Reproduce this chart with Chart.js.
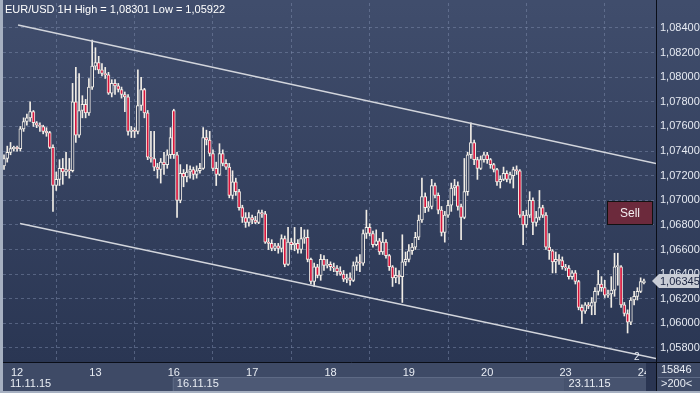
<!DOCTYPE html>
<html>
<head>
<meta charset="utf-8">
<script src="https://cdn.jsdelivr.net/npm/chart.js@4/dist/chart.umd.min.js"></script>
<style>
  html, body { margin: 0; padding: 0; background: #a6b0c1; }
  canvas { display: block; }
</style>
</head>
<body>
<canvas id="chart" width="700" height="393"></canvas>
<script>
// EUR/USD hourly candles, 11.11.15 20:00 -> 24.11.15 00:00
const opens = [
  1.0728, 1.0734, 1.0739, 1.0742, 1.0743, 1.0742, 1.0758, 1.0764, 1.0767, 1.0772, 1.0763, 1.0761,
  1.0760, 1.0756, 1.0755, 1.0743, 1.0712, 1.0717, 1.0726, 1.0723, 1.0725, 1.0724, 1.0780, 1.0753,
  1.0773, 1.0778, 1.0771, 1.0792, 1.0809, 1.0812, 1.0806, 1.0803, 1.0802, 1.0787, 1.0795, 1.0793,
  1.0790, 1.0786, 1.0784, 1.0756, 1.0757, 1.0756, 1.0777, 1.0790, 1.0771, 1.0735, 1.0734, 1.0727,
  1.0725, 1.0731, 1.0729, 1.0737, 1.0773, 1.0737, 1.0700, 1.0722, 1.0719, 1.0723, 1.0725, 1.0721,
  1.0724, 1.0726, 1.0751, 1.0749, 1.0738, 1.0726, 1.0721, 1.0738, 1.0730, 1.0727, 1.0704, 1.0715,
  1.0707, 1.0694, 1.0686, 1.0682, 1.0686, 1.0684, 1.0682, 1.0690, 1.0689, 1.0666, 1.0665, 1.0661,
  1.0663, 1.0661, 1.0669, 1.0648, 1.0666, 1.0664, 1.0665, 1.0660, 1.0669, 1.0670, 1.0652, 1.0634,
  1.0646, 1.0639, 1.0652, 1.0647, 1.0648, 1.0646, 1.0645, 1.0642, 1.0640, 1.0636, 1.0637, 1.0635,
  1.0647, 1.0650, 1.0649, 1.0673, 1.0678, 1.0673, 1.0664, 1.0667, 1.0658, 1.0666, 1.0655, 1.0646,
  1.0637, 1.0639, 1.0638, 1.0650, 1.0652, 1.0659, 1.0662, 1.0670, 1.0684, 1.0703, 1.0694, 1.0695,
  1.0712, 1.0704, 1.0692, 1.0674, 1.0688, 1.0696, 1.0710, 1.0712, 1.0695, 1.0686, 1.0707, 1.0737,
  1.0747, 1.0733, 1.0726, 1.0733, 1.0737, 1.0733, 1.0729, 1.0725, 1.0715, 1.0717, 1.0722, 1.0717,
  1.0720, 1.0725, 1.0724, 1.0688, 1.0680, 1.0688, 1.0700, 1.0682, 1.0686, 1.0694, 1.0688, 1.0662,
  1.0659, 1.0650, 1.0652, 1.0651, 1.0646, 1.0645, 1.0638, 1.0641, 1.0634, 1.0613, 1.0610, 1.0615,
  1.0614, 1.0617, 1.0626, 1.0632, 1.0629, 1.0623, 1.0624, 1.0627, 1.0646, 1.0646, 1.0615, 1.0608,
  1.0601, 1.0619, 1.0622, 1.0626, 1.0633
];
const highs = [
  1.0737, 1.0744, 1.0747, 1.0744, 1.0744, 1.0760, 1.0767, 1.0770, 1.0780, 1.0773, 1.0764, 1.0763,
  1.0761, 1.0759, 1.0756, 1.0745, 1.0723, 1.0733, 1.0734, 1.0739, 1.0734, 1.0795, 1.0808, 1.0803,
  1.0785, 1.0782, 1.0799, 1.08301, 1.0824, 1.0817, 1.0811, 1.0808, 1.0804, 1.0798, 1.0798, 1.0795,
  1.0792, 1.0788, 1.0786, 1.0760, 1.0759, 1.0806, 1.0800, 1.0791, 1.0773, 1.0756, 1.0756, 1.0730,
  1.0734, 1.0739, 1.0741, 1.0759, 1.0774, 1.0739, 1.0729, 1.0725, 1.0729, 1.0728, 1.0727, 1.0728,
  1.0730, 1.0759, 1.0757, 1.0756, 1.0741, 1.0731, 1.0746, 1.0741, 1.0733, 1.0730, 1.0724, 1.0718,
  1.0709, 1.0696, 1.0690, 1.0690, 1.0688, 1.0687, 1.0692, 1.0692, 1.0691, 1.0669, 1.0668, 1.0665,
  1.0665, 1.0672, 1.0671, 1.0678, 1.0669, 1.0678, 1.0668, 1.0678, 1.0676, 1.0676, 1.0653, 1.0649,
  1.0648, 1.0656, 1.0655, 1.0652, 1.0650, 1.0649, 1.0647, 1.0646, 1.0643, 1.0640, 1.0641, 1.0650,
  1.0654, 1.0656, 1.0676, 1.0692, 1.0681, 1.0675, 1.0676, 1.0669, 1.0674, 1.0668, 1.0656, 1.0647,
  1.0645, 1.0643, 1.0672, 1.0658, 1.0664, 1.0665, 1.0674, 1.0688, 1.0718, 1.0706, 1.0699, 1.0717,
  1.0714, 1.0706, 1.0695, 1.0691, 1.0700, 1.0714, 1.0717, 1.0715, 1.0697, 1.0734, 1.0739, 1.0763,
  1.0749, 1.0735, 1.0736, 1.0739, 1.0739, 1.0734, 1.0730, 1.0726, 1.0720, 1.0727, 1.0724, 1.0723,
  1.0727, 1.0728, 1.0725, 1.0691, 1.0692, 1.0707, 1.0702, 1.0691, 1.0708, 1.0696, 1.0690, 1.0673,
  1.0660, 1.0658, 1.0656, 1.0654, 1.0648, 1.0647, 1.0643, 1.0643, 1.0635, 1.0615, 1.0617, 1.0617,
  1.0621, 1.0629, 1.0643, 1.0638, 1.0635, 1.0627, 1.0638, 1.0657, 1.0657, 1.0647, 1.0617, 1.0611,
  1.0621, 1.0626, 1.0629, 1.0637, 1.0636
];
const lows = [
  1.0725, 1.0731, 1.0737, 1.0740, 1.0740, 1.0740, 1.0756, 1.0761, 1.0764, 1.0760, 1.0759, 1.0756,
  1.0754, 1.0752, 1.0742, 1.0691, 1.0708, 1.0712, 1.0713, 1.0720, 1.0718, 1.0723, 1.0747, 1.0751,
  1.0767, 1.0767, 1.0769, 1.0790, 1.0806, 1.0803, 1.0801, 1.0799, 1.0786, 1.0784, 1.0786, 1.0788,
  1.0783, 1.0772, 1.0753, 1.0751, 1.0751, 1.0754, 1.0773, 1.0767, 1.0733, 1.0731, 1.0724, 1.0718,
  1.0714, 1.0721, 1.0726, 1.0734, 1.0734, 1.0686, 1.0698, 1.0711, 1.0715, 1.0718, 1.0717, 1.0718,
  1.0722, 1.0725, 1.0745, 1.0736, 1.0724, 1.0712, 1.0720, 1.0728, 1.0725, 1.0702, 1.0701, 1.0704,
  1.0692, 1.0682, 1.0678, 1.0679, 1.0681, 1.0681, 1.0681, 1.0686, 1.0665, 1.0660, 1.0659, 1.0659,
  1.0657, 1.0658, 1.0646, 1.0647, 1.0660, 1.0659, 1.0657, 1.0657, 1.0665, 1.0650, 1.0632, 1.0630,
  1.0637, 1.0635, 1.0643, 1.0645, 1.0643, 1.0642, 1.0639, 1.0639, 1.0634, 1.0633, 1.0631, 1.0634,
  1.0643, 1.0642, 1.0647, 1.0669, 1.0671, 1.0662, 1.0663, 1.0656, 1.0656, 1.0653, 1.0643, 1.0630,
  1.0633, 1.0632, 1.0617, 1.0647, 1.0650, 1.0656, 1.0660, 1.0668, 1.0682, 1.0690, 1.0691, 1.0693,
  1.0702, 1.0689, 1.0671, 1.0666, 1.0686, 1.0691, 1.0704, 1.0692, 1.0668, 1.0685, 1.0704, 1.0734,
  1.0729, 1.0717, 1.0725, 1.0731, 1.0730, 1.0726, 1.0723, 1.0712, 1.0710, 1.0716, 1.0715, 1.0714,
  1.0710, 1.0721, 1.0686, 1.0664, 1.0678, 1.0686, 1.0672, 1.0679, 1.0684, 1.0686, 1.0660, 1.0652,
  1.0641, 1.0641, 1.0648, 1.0644, 1.0643, 1.0636, 1.0636, 1.0632, 1.0611, 1.0600, 1.0608, 1.0612,
  1.0607, 1.0607, 1.0623, 1.0626, 1.0621, 1.0621, 1.0613, 1.0622, 1.0631, 1.0613, 1.0606, 1.05922,
  1.0599, 1.0615, 1.0619, 1.0625, 1.0632
];
const closes = [
  1.0734, 1.0739, 1.0742, 1.0743, 1.0742, 1.0758, 1.0764, 1.0767, 1.0772, 1.0763, 1.0761, 1.0760,
  1.0756, 1.0755, 1.0743, 1.0712, 1.0717, 1.0726, 1.0723, 1.0725, 1.0724, 1.0780, 1.0753, 1.0773,
  1.0778, 1.0771, 1.0792, 1.0809, 1.0812, 1.0806, 1.0803, 1.0802, 1.0787, 1.0795, 1.0793, 1.0790,
  1.0786, 1.0784, 1.0756, 1.0757, 1.0756, 1.0777, 1.0790, 1.0771, 1.0735, 1.0734, 1.0727, 1.0725,
  1.0731, 1.0729, 1.0737, 1.0751, 1.0737, 1.0700, 1.0722, 1.0719, 1.0723, 1.0725, 1.0721, 1.0724,
  1.0726, 1.0751, 1.0749, 1.0738, 1.0726, 1.0721, 1.0738, 1.0730, 1.0727, 1.0704, 1.0715, 1.0707,
  1.0694, 1.0686, 1.0682, 1.0686, 1.0684, 1.0682, 1.0690, 1.0689, 1.0666, 1.0665, 1.0661, 1.0663,
  1.0661, 1.0669, 1.0648, 1.0666, 1.0664, 1.0665, 1.0660, 1.0669, 1.0670, 1.0652, 1.0634, 1.0646,
  1.0639, 1.0652, 1.0647, 1.0648, 1.0646, 1.0645, 1.0642, 1.0640, 1.0636, 1.0637, 1.0635, 1.0647,
  1.0650, 1.0649, 1.0673, 1.0678, 1.0673, 1.0664, 1.0667, 1.0658, 1.0666, 1.0655, 1.0646, 1.0637,
  1.0639, 1.0638, 1.0650, 1.0652, 1.0659, 1.0662, 1.0670, 1.0684, 1.0703, 1.0694, 1.0695, 1.0712,
  1.0704, 1.0692, 1.0674, 1.0688, 1.0696, 1.0710, 1.0712, 1.0695, 1.0686, 1.0707, 1.0737, 1.0747,
  1.0733, 1.0726, 1.0733, 1.0737, 1.0733, 1.0729, 1.0725, 1.0715, 1.0717, 1.0722, 1.0717, 1.0721,
  1.0725, 1.0724, 1.0688, 1.0680, 1.0688, 1.0700, 1.0682, 1.0686, 1.0694, 1.0688, 1.0662, 1.0659,
  1.0650, 1.0652, 1.0651, 1.0646, 1.0645, 1.0638, 1.0641, 1.0634, 1.0613, 1.0610, 1.0615, 1.0614,
  1.0617, 1.0626, 1.0632, 1.0629, 1.0623, 1.0624, 1.0627, 1.0646, 1.0647, 1.0615, 1.0608, 1.0601,
  1.0619, 1.0622, 1.0626, 1.0634, 1.06345
];

// bar index where each day starts, and its label
const dayStarts = [4, 28, 52, 76, 100, 124, 148, 172, 196];
const dayLabels = ['12', '13', '16', '17', '18', '19', '20', '23', '24'];
const weekStarts = [0, 52, 172];
const weekLabels = ['11.11.15', '16.11.15', '23.11.15'];
const priceTicks = [1.058, 1.060, 1.062, 1.064, 1.066, 1.068, 1.070, 1.072, 1.074, 1.076, 1.078, 1.080, 1.082, 1.084];

// channel lines drawn on the chart (bar index, price)
const channelUpper = [{x: 4.3, y: 1.08424}, {x: 199.7, y: 1.07299}];
const channelLower = [{x: 4.9, y: 1.06811}, {x: 199.7, y: 1.05715}];

const symbol = 'EUR/USD';
const period = '1H';

const fmt = v => v.toFixed(5).replace('.', ',');
const n = Math.min(opens.length, highs.length, lows.length, closes.length);
const bodies = [], wicks = [];
for (let i = 0; i < n; i++) {
  bodies.push({x: i, y: [opens[i], closes[i]]});
  wicks.push({x: i, y: [lows[i], highs[i]]});
}

const CANDLE = '#f1ede6';
const BEAR = '#d8143c';
const BULL = '#323e5c';
const FONT = '"Liberation Sans", Arial, sans-serif';

// keep the plot edges where the layout padding puts them
const noPad = s => { s.paddingTop = 0; s.paddingBottom = 0; s.paddingLeft = 0; s.paddingRight = 0; };

const chrome = {
  id: 'chrome',
  beforeDraw(chart) {
    const {ctx, chartArea: a, width, height} = chart;
    ctx.save();
    ctx.fillStyle = '#a6b0c1';
    ctx.fillRect(0, 0, width, height);
    const g = ctx.createLinearGradient(0, a.top, 0, a.bottom);
    g.addColorStop(0, '#404d6c');
    g.addColorStop(1, '#2a3653');
    ctx.fillStyle = g;
    ctx.fillRect(a.left, 0, width - a.left, a.bottom);
    ctx.fillStyle = '#3e4a66';
    ctx.fillRect(a.left, a.bottom, width - a.left, height - a.bottom - 2);
    ctx.restore();
  },
  afterDraw(chart) {
    const {ctx, chartArea: a, width, height, scales} = chart;
    const xs = scales.x, ys = scales.y;
    ctx.save();
    ctx.font = '11px ' + FONT;
    ctx.textBaseline = 'middle';

    // date row under the day numbers
    const rowTop = a.bottom + 15, rowBot = height - 2;
    const x16 = xs.getPixelForValue(weekStarts[1]) - 1;
    const x23 = xs.getPixelForValue(weekStarts[2]) - 1;
    ctx.fillStyle = '#4d5975';
    ctx.fillRect(x16, rowTop, x23 - x16, rowBot - rowTop);
    ctx.fillStyle = '#47536f';
    ctx.fillRect(x23, rowTop, a.right - 10 - x23, rowBot - rowTop);
    ctx.strokeStyle = '#5e6a85';
    ctx.beginPath();
    ctx.moveTo(x16 + 0.5, rowBot); ctx.lineTo(x16 + 0.5, rowTop + 0.5); ctx.lineTo(a.right - 10, rowTop + 0.5);
    ctx.stroke();
    ctx.fillStyle = '#e9edf4';
    ctx.textAlign = 'left';
    ctx.fillText(weekLabels[0], a.left + 7, rowTop + 7);
    ctx.fillText(weekLabels[1], x16 + 4, rowTop + 7);
    ctx.fillText(weekLabels[2], x23 + 4, rowTop + 7);
    ctx.fillStyle = '#2a3552';
    ctx.fillRect(a.right - 10, a.bottom + 1, 10, height - a.bottom - 3);

    // frame lines
    ctx.strokeStyle = '#0a0e18';
    ctx.lineWidth = 1;
    ctx.beginPath();
    ctx.moveTo(a.right + 0.5, 0); ctx.lineTo(a.right + 0.5, height - 2);
    ctx.moveTo(a.left, a.bottom + 0.5); ctx.lineTo(width, a.bottom + 0.5);
    ctx.stroke();

    // title
    const hi = Math.max(...highs.slice(0, n)), lo = Math.min(...lows.slice(0, n));
    ctx.fillStyle = '#ffffff';
    ctx.fillText(`${symbol} ${period} High = ${fmt(hi)} Low = ${fmt(lo)}`, a.left + 2, 10);

    // channel tag
    ctx.font = '10px ' + FONT;
    ctx.fillStyle = '#e9edf4';
    ctx.fillText('2', a.right - 22, a.bottom - 5);

    // sell button
    ctx.fillStyle = '#6c2a3c';
    ctx.fillRect(607, 201, 46, 24);
    ctx.strokeStyle = '#111';
    ctx.strokeRect(607.5, 201.5, 45, 23);
    ctx.font = '12px ' + FONT;
    ctx.fillStyle = '#f4eef0';
    ctx.textAlign = 'center';
    ctx.fillText('Sell', 630, 213.5);

    // last price tag
    const last = closes[n - 1];
    const py = Math.round(ys.getPixelForValue(last));
    ctx.fillStyle = '#c9cdd6';
    ctx.beginPath();
    ctx.moveTo(a.right - 4, py);
    ctx.lineTo(a.right + 3, py - 7);
    ctx.lineTo(width - 1, py - 7);
    ctx.lineTo(width - 1, py + 7);
    ctx.lineTo(a.right + 3, py + 7);
    ctx.closePath();
    ctx.fill();
    ctx.font = '11px ' + FONT;
    ctx.fillStyle = '#1a2340';
    ctx.textAlign = 'left';
    ctx.fillText(fmt(last), a.right + 4, py + 0.5);

    // bottom right cell
    ctx.fillStyle = '#e9edf4';
    ctx.fillText('15846', a.right + 5, a.bottom + 8);
    ctx.fillText('>200<', a.right + 5, a.bottom + 22);
    ctx.strokeStyle = '#5e6a85';
    ctx.beginPath();
    ctx.moveTo(a.right + 2, a.bottom + 15.5); ctx.lineTo(width, a.bottom + 15.5);
    ctx.stroke();
    ctx.restore();
  }
};

new Chart(document.getElementById('chart'), {
  type: 'bar',
  data: {
    datasets: [
      { type: 'line', data: channelUpper, borderColor: '#d2d5dc', borderWidth: 1.5, pointRadius: 0, order: 0 },
      { type: 'line', data: channelLower, borderColor: '#d2d5dc', borderWidth: 1.5, pointRadius: 0, order: 0 },
      {
        data: bodies, grouped: false, order: 1,
        barThickness: 3, borderWidth: 1, borderSkipped: false, borderColor: CANDLE,
        backgroundColor: c => (c.raw && c.raw.y[1] < c.raw.y[0]) ? BEAR : BULL
      },
      { data: wicks, grouped: false, order: 2, barThickness: 1, borderWidth: 0, backgroundColor: CANDLE }
    ]
  },
  options: {
    responsive: false,
    animation: false,
    layout: { padding: { left: 3, top: 3, right: 0, bottom: 0 } },
    plugins: { legend: { display: false }, tooltip: { enabled: false } },
    scales: {
      x: {
        type: 'linear', min: -0.31, max: 199.7, offset: false,
        grid: { color: 'rgba(125,140,172,0.5)', drawTicks: false },
        border: { display: false, dash: [3, 3] },
        ticks: {
          autoSkip: false, maxRotation: 0, padding: 4, color: '#e9edf4',
          font: { size: 11, family: FONT },
          callback: v => { const k = dayStarts.indexOf(v); return k < 0 ? '' : dayLabels[k]; }
        },
        afterBuildTicks: s => { s.ticks = dayStarts.map(v => ({ value: v })); },
        afterFit: s => { s.height = 31; noPad(s); }
      },
      y: {
        position: 'right', min: 1.056862, max: 1.086031,
        grid: { color: 'rgba(125,140,172,0.5)', drawTicks: false },
        border: { display: false, dash: [3, 3] },
        ticks: {
          autoSkip: false, padding: 4, color: '#e6eaf2',
          font: { size: 11, family: FONT },
          callback: v => fmt(v)
        },
        afterBuildTicks: s => { s.ticks = priceTicks.map(v => ({ value: v })); },
        afterFit: s => { s.width = 44; noPad(s); }
      }
    }
  },
  plugins: [chrome]
});
</script>
</body>
</html>
